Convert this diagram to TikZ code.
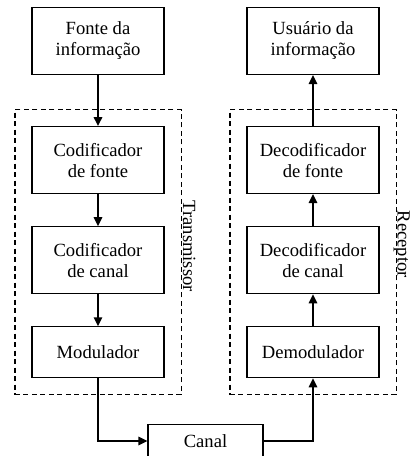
\documentclass[tikz,border=0pt]{standalone}
\usepackage{fontspec}
\setmainfont{Liberation Serif}
\usetikzlibrary{positioning,fit,arrows.meta}

\begin{document}
\begin{tikzpicture}[x=1pt, y=1pt, node distance=32pt, >={Triangle[length=9pt,width=8.5pt]},
        bloco/.style={draw, rectangle, line width=1.1pt, minimum width=132pt, minimum height=51pt, align=center, font=\fontsize{18.6}{21}\selectfont},
        bloco2/.style={bloco, minimum height=67pt},
        seta/.style={->, line width=1.6pt},
        grupo/.style={draw, dash pattern=on 5pt off 3.5pt, line width=1.1pt, inner sep=16.5pt},
        rotulo/.style={rotate=-90, anchor=base, inner sep=0pt, font=\fontsize{18.6}{21}\selectfont}]
        \useasboundingbox (0,0) rectangle (411,-456);

        % Transmissor
        \node [bloco2] (F) at (98,-41) {Fonte da\\informação};
        \node [bloco2, below=51pt of F] (CF) {Codificador\\de fonte};
        \node [bloco2, below=of CF] (CC) {Codificador\\de canal};
        \node [bloco, below=of CC] (Mod) {Modulador};

        % Receptor
        \node [bloco2] (U) at (313,-41) {Usuário da\\informação};
        \node [bloco2, below=51pt of U] (DF) {Decodificador\\de fonte};
        \node [bloco2, below=of DF] (DC) {Decodificador\\de canal};
        \node [bloco, below=of DC] (Demod) {Demodulador};

        % Canal
        \node [bloco, minimum width=115pt, minimum height=33pt] (Canal) at (205.5,-441) {Canal};

        % Grupos tracejados
        \node [grupo, fit=(CF)(Mod)] (Tx) {};
        \node [grupo, fit=(DF)(Demod)] (Rx) {};
        \node [rotulo] (TxL) at ([xshift=1.5pt, yshift=6pt]Tx.east) {Transmissor};
        \node [rotulo] (RxL) at ([xshift=1pt, yshift=8pt]Rx.east) {Receptor};

        % Setas
        \draw[seta] (F) -- (CF);
        \draw[seta] (CF) -- (CC);
        \draw[seta] (CC) -- (Mod);
        \draw[seta] (Mod.south) |- (Canal.west);
        \draw[seta] (Canal.east) -| (Demod.south);
        \draw[seta] (Demod) -- (DC);
        \draw[seta] (DC) -- (DF);
        \draw[seta] (DF) -- (U);
    \end{tikzpicture}
\end{document}
